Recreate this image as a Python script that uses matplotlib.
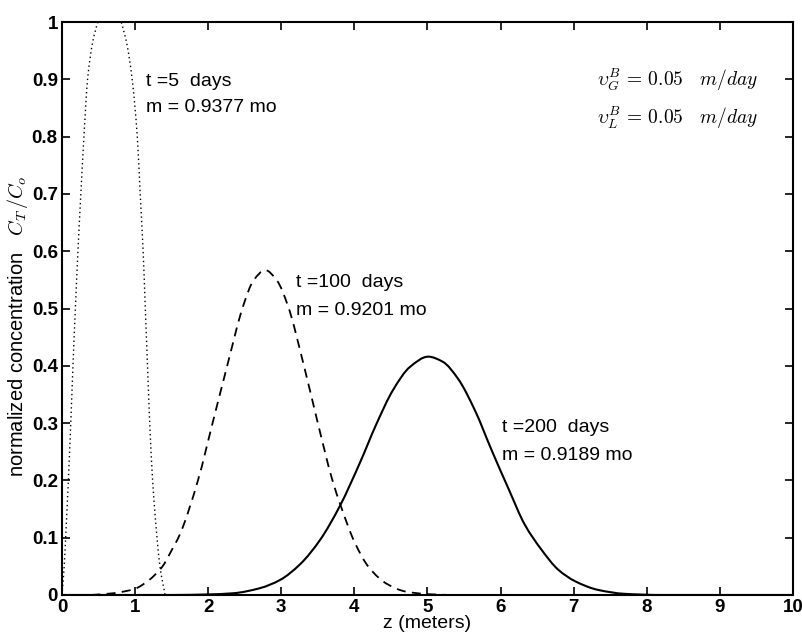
import matplotlib
matplotlib.use("Agg")
import matplotlib.pyplot as plt
from matplotlib.path import Path
from matplotlib.patches import PathPatch
import numpy as np

plt.rcParams['font.family'] = ['Liberation Sans', 'DejaVu Sans']
plt.rcParams['mathtext.fontset'] = 'cm'

# t = 5 days (dotted), peak is clipped at the top of the axes
z_t5 = [0.0, 0.03, 0.05, 0.087, 0.12, 0.15, 0.183, 0.218, 0.258, 0.30, 0.35, 0.42,
        0.49, 0.57, 0.65, 0.73, 0.81, 0.89, 0.96, 1.03, 1.07, 1.11, 1.14, 1.17,
        1.20, 1.24, 1.30, 1.34, 1.41]
c_t5 = [0.0, 0.05, 0.1, 0.2, 0.3, 0.4, 0.5, 0.6, 0.7, 0.8, 0.9, 0.965,
        1.0, 1.03, 1.038, 1.03, 1.0, 0.96, 0.9, 0.8, 0.7, 0.6, 0.5, 0.4,
        0.3, 0.2, 0.1, 0.05, 0.0]

# t = 100 days (dashed)
z_t100 = [0.4, 0.7, 1.0, 1.18, 1.37, 1.5, 1.61, 1.86, 2.06, 2.26, 2.48, 2.62, 2.78,
          2.94, 3.09, 3.31, 3.50, 3.70, 3.81, 4.0, 4.2, 4.45, 4.7, 5.0, 5.3]
c_t100 = [0.0, 0.003, 0.011, 0.025, 0.049, 0.078, 0.105, 0.2, 0.3, 0.4, 0.505, 0.549, 0.567,
          0.549, 0.505, 0.4, 0.3, 0.2, 0.157, 0.093, 0.048, 0.019, 0.006, 0.0015, 0.0]

# t = 200 days (solid)
z_t200 = [0.0, 1.5, 2.0, 2.34, 2.71, 2.98, 3.26, 3.53, 3.80, 4.08, 4.30, 4.53, 4.76,
          5.01, 5.21, 5.42, 5.65, 5.88, 6.11, 6.33, 6.56, 6.79, 7.02, 7.33, 7.7,
          8.2, 10.0]
c_t200 = [0.0, 0.0, 0.001, 0.003, 0.012, 0.026, 0.054, 0.096, 0.155, 0.232, 0.298, 0.358, 0.398,
          0.416, 0.407, 0.377, 0.322, 0.252, 0.185, 0.123, 0.079, 0.044, 0.024, 0.009, 0.002,
          0.0, 0.0]

xticks = list(range(0, 11))
yticks = [0, 0.1, 0.2, 0.3, 0.4, 0.5, 0.6, 0.7, 0.8, 0.9, 1]
ytick_labels = ['0', '0.1', '0.2', '0.3', '0.4', '0.5', '0.6', '0.7', '0.8', '0.9', '1']


def smooth_path(x, y):
    # cubic bezier through the read points, pchip-style slopes (no overshoot)
    x = np.asarray(x, float)
    y = np.asarray(y, float)
    h = np.diff(x)
    d = np.diff(y) / h
    m = np.zeros_like(y)
    for i in range(1, len(x) - 1):
        if d[i - 1] * d[i] > 0:
            w1 = 2 * h[i] + h[i - 1]
            w2 = h[i] + 2 * h[i - 1]
            m[i] = (w1 + w2) / (w1 / d[i - 1] + w2 / d[i])
    m[0] = d[0]
    m[-1] = d[-1]
    verts = [(x[0], y[0])]
    codes = [Path.MOVETO]
    for i in range(len(x) - 1):
        verts += [(x[i] + h[i] / 3, y[i] + m[i] * h[i] / 3),
                  (x[i + 1] - h[i] / 3, y[i + 1] - m[i + 1] * h[i] / 3),
                  (x[i + 1], y[i + 1])]
        codes += [Path.CURVE4] * 3
    return Path(verts, codes)


fig = plt.figure(figsize=(8.03, 6.44), dpi=100)
ax = fig.add_axes([0.0772, 0.0761, 0.9103, 0.8897])

ax.add_patch(PathPatch(smooth_path(z_t5, c_t5), fill=False, edgecolor='black',
                       lw=1.0, linestyle=(0, (1, 2.2))))
ax.add_patch(PathPatch(smooth_path(z_t100, c_t100), fill=False, edgecolor='black',
                       lw=1.3, linestyle=(0, (5, 3.5))))
ax.add_patch(PathPatch(smooth_path(z_t200, c_t200), fill=False, edgecolor='black',
                       lw=1.5, linestyle='-'))

ax.set_xlim(0, 10)
ax.set_ylim(0, 1)
ax.set_xticks(xticks)
ax.set_xticklabels([str(v) for v in xticks])
ax.set_yticks(yticks)
ax.set_yticklabels(ytick_labels)
ax.tick_params(direction='in', top=True, right=True, length=6, width=1.2,
               labelsize=13.5, pad=3)
for lab in ax.get_xticklabels() + ax.get_yticklabels():
    lab.set_fontweight('bold')
for sp in ax.spines.values():
    sp.set_linewidth(1.5)

ax.set_xlabel('z (meters)', fontsize=14, labelpad=-1)
fig.text(0.022, 0.493, r'normalized concentration   $C_{T}\,/C_{o}$', rotation=90,
         fontsize=14.5, ha='center', va='center')

# curve annotations
ax.text(1.15, 0.896, 't =5  days', fontsize=14, va='center')
ax.text(1.15, 0.850, 'm = 0.9377 mo', fontsize=14, va='center')
ax.text(3.2, 0.546, 't =100  days', fontsize=14, va='center')
ax.text(3.2, 0.497, 'm = 0.9201 mo', fontsize=14, va='center')
ax.text(6.02, 0.293, 't =200  days', fontsize=14, va='center')
ax.text(6.02, 0.244, 'm = 0.9189 mo', fontsize=14, va='center')

ax.text(7.32, 0.899, r'$\upsilon_{G}^{B}\,=\,0.05\quad m/day$', fontsize=14, va='center')
ax.text(7.32, 0.832, r'$\upsilon_{L}^{B}\,=\,0.05\quad m/day$', fontsize=14, va='center')

fig.savefig('out.png', dpi=100)
